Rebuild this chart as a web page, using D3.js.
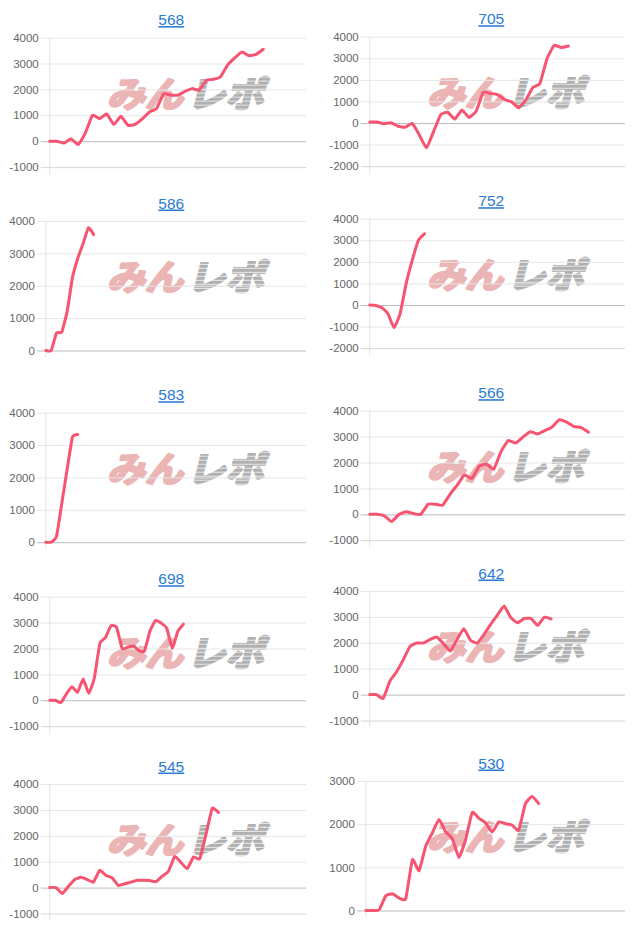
<!DOCTYPE html>
<html><head><meta charset="utf-8">
<script src="https://cdn.jsdelivr.net/npm/d3@7"></script>
<style>html,body{margin:0;padding:0;background:#fff;} svg{display:block}</style>
</head><body>
<svg id="c" width="640" height="931"></svg>
<script>
// ---------- data ----------
const titles = ["568","705","586","752","583","566","698","642","545","530"];
const s568 = [0,0,-70,90,-130,310,1000,870,1050,650,960,610,650,860,1130,1260,1830,1780,1780,1920,2030,1970,2350,2390,2490,2950,3220,3440,3300,3350,3550];
const s705 = [50,50,-30,15,-150,-200,-15,-550,-1150,-400,380,500,180,600,260,550,1420,1370,1320,1090,980,710,1060,1650,1830,2980,3600,3500,3570];
const s586 = [0,0,540,570,1200,2250,2850,3300,3790,3580];
const s752 = [0,-20,-130,-400,-1050,-400,1000,2080,3000,3300];
const s583 = [0,0,180,1200,2250,3250,3330];
const s566 = [0,0,-60,-280,-10,100,30,0,390,390,350,770,1130,1520,1380,1850,1940,1740,2420,2850,2750,2980,3190,3100,3230,3370,3650,3560,3390,3350,3170];
const s698 = [0,0,-90,250,520,310,820,270,850,2200,2420,2880,2820,2000,2050,2100,1920,1900,2680,3080,2980,2790,2010,2670,2940];
const s642 = [0,0,-150,520,880,1350,1860,1990,1990,2130,2220,1960,1680,2130,2540,2100,1990,2320,2710,3070,3420,2970,2770,2940,2940,2670,2990,2920];
const s545 = [0,0,-230,50,310,400,310,210,670,470,370,80,150,210,280,280,270,230,440,630,1200,970,730,1180,1110,2050,3060,2900];
const s530 = [0,0,20,340,390,290,270,1180,920,1490,1800,2110,1820,1670,1230,1640,2270,2140,2030,1820,2050,2010,1980,1860,2470,2640,2480];
const seriesList = [s568,s705,s586,s752,s583,s566,s698,s642,s545,s530];
const yMins = [-1000,-2000,0,-2000,0,-1000,-1000,-1000,-1000,0];
const yMaxs = [4000,4000,4000,4000,4000,4000,4000,4000,4000,3000];
const tickStep = 1000;
const xSlots = [37,37,50,43,50,36,47,39,42,40];
const watermarkA = "みん";
const watermarkB = "レポ";

// ---------- layout ----------
const areaTops = [37.6,36.7,221,218.7,412.7,410.7,596.7,591,784,781];
const areaH = 129.5;
const colLabelX = [9.3, 329.3];
const colRight = [306, 625];
const labelFont = "'Liberation Sans', Arial, sans-serif";

const svg = d3.select("#c");
const defs = svg.append("defs");
const pat = defs.append("pattern").attr("id","stripe").attr("patternUnits","userSpaceOnUse")
  .attr("width",8).attr("height",4);
pat.append("rect").attr("width",8).attr("height",4).attr("fill","#b0b0b0");
pat.append("rect").attr("y",3).attr("width",8).attr("height",1).attr("fill","#ffffff").attr("opacity",0.7);

titles.forEach((t,i)=>{
  const col = i%2;
  const top = areaTops[i];
  const bottom = top + areaH;
  const ticks = d3.range(yMins[i], yMaxs[i]+1, tickStep);
  const g = svg.append("g");

  // measure widest label
  const meas = g.append("text").attr("font-family",labelFont).attr("font-size",11.5);
  let maxW = 0;
  ticks.forEach(v=>{ meas.text(String(v)); maxW = Math.max(maxW, meas.node().getComputedTextLength()); });
  meas.remove();

  const left = colLabelX[col] + maxW + 11;
  const right = colRight[col];
  const y = d3.scaleLinear().domain([yMins[i], yMaxs[i]]).range([bottom, top]);
  const x = d3.scaleLinear().domain([0, xSlots[i]-1]).range([left, right]);

  // watermark
  const wcx = colLabelX[col] + 179, wcy = top + 56;
  const wm = g.append("g").attr("transform",`translate(${wcx},${wcy}) skewX(-14)`);
  wm.append("text").attr("x",-78).attr("y",13).attr("font-family","'Noto Sans CJK JP', 'Noto Sans CJK SC'")
    .attr("font-weight","bold").attr("font-size",35).attr("fill","#ebb5b5")
    .attr("stroke","#ebb5b5").attr("stroke-width",2.6).attr("stroke-linejoin","round")
    .attr("textLength",76).attr("lengthAdjust","spacingAndGlyphs").text(watermarkA);
  wm.append("text").attr("x",2).attr("y",13).attr("font-family","'Noto Sans CJK JP', 'Noto Sans CJK SC'")
    .attr("font-weight","bold").attr("font-size",35).attr("fill","url(#stripe)")
    .attr("stroke","url(#stripe)").attr("stroke-width",2.6).attr("stroke-linejoin","round")
    .attr("textLength",77).attr("lengthAdjust","spacingAndGlyphs").text(watermarkB);

  // vertical axis line
  g.append("line").attr("x1",left).attr("x2",left).attr("y1",top).attr("y2",bottom+7)
    .attr("stroke","#e3e3e3").attr("stroke-width",1);

  // gridlines + labels via axis
  const ax = d3.axisLeft(y).tickValues(ticks).tickSize(-(right-left+9)).tickPadding(2).tickFormat(d=>String(d));
  const axg = g.append("g").attr("transform",`translate(${left-9},0)`).call(ax);
  axg.select(".domain").remove();
  axg.selectAll(".tick line")
    .attr("stroke", d => d===0 ? "#bdbdbd" : (d===yMins[i] ? "#d6d6d6" : "#e6e6e6"))
    .attr("stroke-width",1);
  axg.selectAll(".tick text").attr("font-family",labelFont).attr("font-size",11.5).attr("fill","#666");

  // line
  const line = d3.line().x((d,j)=>x(j)).y(d=>y(d)).curve(d3.curveCardinal.tension(0.6));
  g.append("path").datum(seriesList[i]).attr("d",line).attr("fill","none")
    .attr("stroke","rgb(246,84,112)").attr("stroke-width",3)
    .attr("stroke-linejoin","round").attr("stroke-linecap","round");

  // title
  g.append("text").attr("x",colLabelX[col]+162).attr("y",top-12.5)
    .attr("text-anchor","middle").attr("font-family",labelFont).attr("font-size",15.5)
    .attr("fill","#2b7bd2").attr("text-decoration","underline").text(t);
});
</script>
</body></html>
